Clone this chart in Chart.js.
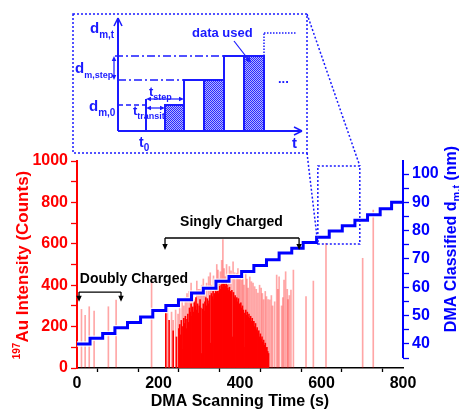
<!DOCTYPE html>
<html>
<head>
<meta charset="utf-8">
<script src="https://cdn.jsdelivr.net/npm/chart.js@4.4.1/dist/chart.umd.min.js"></script>
<style>
body { margin: 0; background: #fff; }
canvas { display: block; }
</style>
</head>
<body>
<canvas id="grafico" width="459" height="412"></canvas>
<script>
// DMA steps: start time of each step (s) and classified diameter (nm)
const stepTimes = [0, 32, 63, 93, 124, 156, 186, 218, 249, 281, 310, 341, 373, 404, 434, 465, 496, 527, 555, 588, 619, 651, 682, 713, 744, 772, 800];
const stepDiameters = [40, 42, 43.7, 45.7, 47.6, 49.5, 51.8, 53.6, 55.6, 58, 59.7, 62.1, 63.8, 65.6, 67.7, 69.7, 72.1, 73.8, 75.8, 77.7, 79.9, 81.7, 83.7, 85.6, 87.7, 90, 90];

// dense 197Au signal (solid red part)
const denseTimes = [218, 226, 236, 244,
    250, 252, 254, 256, 258, 260, 262, 264, 266, 268, 270, 272, 274, 276, 278, 280, 282, 284, 286, 288, 290, 292, 294, 296, 298,
    300, 302, 304, 306, 308, 310, 312, 314, 316, 318, 320, 322, 324, 326, 328, 330, 332, 334, 336, 338, 340, 342, 344, 346, 348,
    350, 352, 354, 356, 358, 360, 362, 364, 366, 368, 370, 372, 374, 376, 378, 380, 382, 384, 386, 388, 390, 392, 394, 396, 398,
    400, 402, 404, 406, 408, 410, 412, 414, 416, 418, 420, 422, 424, 426, 428, 430, 432, 434, 436, 438, 440, 442, 444, 446, 448,
    450, 452, 454, 456, 458, 460, 462, 464, 466, 468, 470];
const denseCounts = [265, 230, 180, 150,
    190, 210, 160, 230, 200, 90, 240, 215, 250, 190, 235, 260, 220, 290, 270, 310, 250, 295, 270, 320, 300, 340, 280, 310, 265,
    300, 330, 290, 70, 285, 310, 275, 320, 340, 300, 335, 310, 325, 350, 120, 360, 345, 370, 330, 360, 385, 365, 390, 375, 360,
    395, 380, 400, 410, 390, 415, 405, 395, 420, 400, 385, 375, 390, 370, 360, 375, 150, 365, 340, 350, 330, 340, 320, 335, 310,
    300, 315, 290, 300, 280, 100, 265, 280, 255, 270, 245, 260, 240, 250, 225, 240, 210, 225, 200, 215, 185, 195, 170, 180, 150,
    165, 140, 150, 125, 135, 110, 120, 95, 100, 80, 70];

// single spikes (thin, pale lines)
const spikeTimes = [11, 20, 30, 42, 77, 96, 183, 222, 232, 236, 242, 248, 252, 258, 262, 266, 270, 275, 280, 285, 290, 294, 298,
    302, 306, 310, 314, 318, 323, 327, 330, 335, 340, 343, 346, 349, 352, 355, 358, 361, 364, 367, 371, 374, 378, 383, 387, 392,
    395, 398, 401, 404, 407, 410, 414, 417, 420, 424, 428, 432, 436, 440, 444, 448, 452, 455, 458, 462, 465, 469, 473, 477, 480,
    485, 490, 493, 496, 502, 505, 508, 512, 516, 518, 521, 525, 531, 562, 580, 611, 701, 727];
const spikeCounts = [283, 255, 296, 275, 296, 328, 420, 300, 270, 230, 280, 260, 300, 330, 300, 340, 360, 370, 410, 360, 330, 420, 380,
    380, 400, 430, 370, 410, 441, 460, 400, 445, 425, 500, 473, 430, 465, 520, 620, 480, 441, 500, 425, 490, 470, 513, 460, 458,
    480, 430, 470, 425, 440, 400, 465, 430, 386, 440, 417, 410, 393, 380, 362, 400, 386, 360, 330, 370, 345, 330, 329, 350, 300,
    320, 449, 380, 441, 300, 340, 425, 465, 380, 330, 350, 377, 473, 345, 420, 602, 530, 763];

const countTicks = [0, 200, 400, 600, 800, 1000];
const timeTicks = [0, 200, 400, 600, 800];
const diameterTicks = [40, 50, 60, 70, 80, 90, 100];

const FUENTE = '"Liberation Sans", Arial, sans-serif';
const AZUL = '#0000ff';
const AZUL_INSET = '#1a1aff';

function puntos(xs, ys) {
    return xs.map((x, i) => ({ x: x, y: ys[i] }));
}

function flecha(ctx, x, y, ang, tam, color) {
    ctx.save();
    ctx.translate(x, y);
    ctx.rotate(ang);
    ctx.fillStyle = color;
    ctx.beginPath();
    ctx.moveTo(0, 0);
    ctx.lineTo(-tam, -tam * 0.45);
    ctx.lineTo(-tam, tam * 0.45);
    ctx.closePath();
    ctx.fill();
    ctx.restore();
}

function linea(ctx, x1, y1, x2, y2) {
    ctx.beginPath();
    ctx.moveTo(x1, y1);
    ctx.lineTo(x2, y2);
    ctx.stroke();
}

function textoSub(ctx, x, y, base, sub, tam, tamSub, color) {
    ctx.fillStyle = color;
    ctx.font = 'bold ' + tam + 'px ' + FUENTE;
    ctx.fillText(base, x, y);
    const w = ctx.measureText(base).width;
    ctx.font = 'bold ' + tamSub + 'px ' + FUENTE;
    ctx.fillText(sub, x + w, y + tam * 0.3);
}

// title rotated -90deg, made of pieces with own size and vertical shift
function tituloVertical(ctx, cx, cy, piezas, color) {
    ctx.save();
    ctx.translate(cx, cy);
    ctx.rotate(-Math.PI / 2);
    ctx.fillStyle = color;
    ctx.textBaseline = 'alphabetic';
    let total = 0;
    piezas.forEach(p => {
        ctx.font = 'bold ' + p.tam + 'px ' + FUENTE;
        p.w = ctx.measureText(p.t).width;
        total += p.w;
    });
    let x = -total / 2;
    piezas.forEach(p => {
        ctx.font = 'bold ' + p.tam + 'px ' + FUENTE;
        ctx.fillText(p.t, x, 6 + p.dy);
        x += p.w;
    });
    ctx.restore();
}

function patronTrama(ctx) {
    const c = document.createElement('canvas');
    c.width = 2; c.height = 2;
    const p = c.getContext('2d');
    p.fillStyle = '#b4b4ff';
    p.fillRect(0, 0, 2, 2);
    p.fillStyle = '#2a2aff';
    p.fillRect(0, 0, 1, 1);
    p.fillRect(1, 1, 1, 1);
    return ctx.createPattern(c, 'repeat');
}

// schematic of the DMA stepping above the plot
function dibujarInset(ctx) {
    ctx.save();
    ctx.strokeStyle = AZUL_INSET;
    ctx.lineWidth = 1.5;
    // dashed frame
    ctx.setLineDash([2, 2]);
    ctx.strokeRect(73, 14, 234, 139);
    ctx.setLineDash([]);

    // axes
    ctx.lineWidth = 2;
    linea(ctx, 118, 131, 118, 18);
    linea(ctx, 118, 131, 302, 131);
    ctx.lineWidth = 1.5;
    linea(ctx, 118, 18, 114, 26); linea(ctx, 118, 18, 122, 26);
    linea(ctx, 302, 131, 294, 127); linea(ctx, 302, 131, 294, 135);

    // dash-dot levels
    ctx.setLineDash([8, 3, 2, 3]);
    linea(ctx, 115, 56, 224, 56);
    linea(ctx, 118, 80, 185, 80);
    ctx.setLineDash([5, 3]);
    linea(ctx, 118, 105, 146, 105);
    ctx.setLineDash([]);

    // boxes
    const trama = patronTrama(ctx);
    ctx.lineWidth = 2;
    linea(ctx, 146, 99, 146, 131);
    const cajas = [[165, 105, 19, true], [184, 80, 20, false], [204, 80, 20, true], [224, 56, 20, false], [244, 56, 20, true]];
    cajas.forEach(c => {
        if (c[3]) {
            ctx.fillStyle = trama;
            ctx.fillRect(c[0], c[1], c[2], 131 - c[1]);
        }
        ctx.strokeRect(c[0], c[1], c[2], 131 - c[1]);
    });
    ctx.lineWidth = 1.5;
    ctx.setLineDash([1.5, 1.5]);
    linea(ctx, 264, 56, 264, 33);
    linea(ctx, 264, 33, 297, 33);
    ctx.setLineDash([]);

    // d_m,step double arrow
    ctx.lineWidth = 1.2;
    linea(ctx, 114, 59, 114, 77);
    flecha(ctx, 114, 56, -Math.PI / 2, 5, AZUL_INSET);
    flecha(ctx, 114, 80, Math.PI / 2, 5, AZUL_INSET);
    // t_step and t_transit arrows
    linea(ctx, 149, 99, 181, 99);
    flecha(ctx, 146, 99, Math.PI, 5, AZUL_INSET);
    flecha(ctx, 184, 99, 0, 5, AZUL_INSET);
    linea(ctx, 149, 108, 162, 108);
    flecha(ctx, 146, 108, Math.PI, 5, AZUL_INSET);
    flecha(ctx, 165, 108, 0, 5, AZUL_INSET);
    // data used arrow
    linea(ctx, 234, 41, 248, 59);
    flecha(ctx, 251, 63, Math.atan2(22, 17), 6, AZUL_INSET);

    // labels
    ctx.textAlign = 'left';
    ctx.textBaseline = 'alphabetic';
    textoSub(ctx, 90, 33, 'd', 'm,t', 15, 10, AZUL_INSET);
    textoSub(ctx, 75, 73, 'd', 'm,step', 15, 9, AZUL_INSET);
    textoSub(ctx, 89, 111, 'd', 'm,0', 15, 10, AZUL_INSET);
    textoSub(ctx, 139, 147, 't', '0', 14, 10, AZUL_INSET);
    textoSub(ctx, 149, 96, 't', 'step', 13, 9, AZUL_INSET);
    textoSub(ctx, 133, 115, 't', 'transit', 13, 9, AZUL_INSET);
    ctx.font = 'bold 15px ' + FUENTE;
    ctx.fillText('t', 292, 148);
    ctx.font = 'bold 13px ' + FUENTE;
    ctx.fillText('data used', 192, 37);
    ctx.fillText('...', 278, 83);
    ctx.restore();
}

const extras = {
    id: 'extras',
    afterDatasetsDraw(chart) {
        const ctx = chart.ctx;
        const x = chart.scales.x;
        const y = chart.scales.y;
        const y1 = chart.scales.y1;
        const area = chart.chartArea;

        // right axis line only spans the diameter range
        ctx.save();
        ctx.strokeStyle = AZUL;
        ctx.lineWidth = 2;
        linea(ctx, area.right, y1.getPixelForValue(35), area.right, area.top - 1);

        // zoomed region and connector lines
        ctx.strokeStyle = AZUL_INSET;
        ctx.lineWidth = 1.5;
        ctx.setLineDash([2, 2]);
        const rx1 = x.getPixelForValue(591), rx2 = x.getPixelForValue(694);
        const ry1 = y.getPixelForValue(976), ry2 = y.getPixelForValue(599);
        ctx.strokeRect(rx1, ry1, rx2 - rx1, ry2 - ry1);
        linea(ctx, 307, 14, rx2, ry1);
        linea(ctx, 307, 153, rx1, ry2);
        ctx.setLineDash([]);

        // charge annotations
        ctx.strokeStyle = '#000';
        ctx.lineWidth = 1.3;
        ctx.fillStyle = '#000';
        ctx.font = 'bold 14px ' + FUENTE;
        ctx.textBaseline = 'middle';
        ctx.textAlign = 'left';
        ctx.fillText('Doubly Charged', x.getPixelForValue(7), y.getPixelForValue(430));
        ctx.fillText('Singly Charged', x.getPixelForValue(253), y.getPixelForValue(705));
        const corchetes = [[5, 108, 367, 320], [216, 545, 628, 570]];
        corchetes.forEach(c => {
            const xa = x.getPixelForValue(c[0]), xb = x.getPixelForValue(c[1]);
            const yl = y.getPixelForValue(c[2]), yt = y.getPixelForValue(c[3]);
            linea(ctx, xa, yl, xb, yl);
            linea(ctx, xa, yl, xa, yt - 4);
            linea(ctx, xb, yl, xb, yt - 4);
            flecha(ctx, xa, yt, Math.PI / 2, 6, '#000');
            flecha(ctx, xb, yt, Math.PI / 2, 6, '#000');
        });
        ctx.restore();
    },
    afterDraw(chart) {
        const ctx = chart.ctx;
        dibujarInset(ctx);
        // axis titles
        tituloVertical(ctx, 22, 265, [
            { t: '197', tam: 10, dy: -8 },
            { t: 'Au Intensity (Counts)', tam: 17, dy: 0 }
        ], '#ff0000');
        tituloVertical(ctx, 450, 239, [
            { t: 'DMA Classified d', tam: 16, dy: 0 },
            { t: 'm,t', tam: 11, dy: 4 },
            { t: ' (nm)', tam: 16, dy: 0 }
        ], AZUL);
        ctx.save();
        ctx.fillStyle = '#000';
        ctx.font = 'bold 16px ' + FUENTE;
        ctx.textAlign = 'center';
        ctx.textBaseline = 'middle';
        ctx.fillText('DMA Scanning Time (s)', 240, 402);
        ctx.restore();
    }
};

const fuenteTicks = { family: FUENTE, size: 16, weight: 'bold' };

const config = {
    data: {
        datasets: [
            {
                type: 'line',
                data: puntos(stepTimes, stepDiameters),
                yAxisID: 'y1',
                stepped: 'before',
                borderColor: AZUL,
                borderWidth: 3,
                pointRadius: 0,
                order: 0
            },
            {
                type: 'line',
                data: puntos(stepTimes, stepDiameters),
                yAxisID: 'y1',
                stepped: 'before',
                borderColor: 'rgba(255,255,255,0.8)',
                borderWidth: 5.5,
                pointRadius: 0,
                order: 1
            },
            {
                type: 'bar',
                data: puntos(spikeTimes, spikeCounts),
                yAxisID: 'y',
                backgroundColor: 'rgba(255,0,0,0.35)',
                barThickness: 1,
                grouped: false,
                order: 2
            },
            {
                type: 'bar',
                data: puntos(denseTimes, denseCounts),
                yAxisID: 'y',
                backgroundColor: '#ff0000',
                barThickness: 1,
                grouped: false,
                order: 3
            }
        ]
    },
    options: {
        responsive: false,
        animation: false,
        events: [],
        layout: { padding: { top: 161, left: 0, right: 0, bottom: 0 } },
        plugins: {
            legend: { display: false },
            tooltip: { enabled: false }
        },
        scales: {
            x: {
                type: 'linear',
                position: 'bottom',
                min: 0,
                max: 800,
                offset: false,
                border: { color: '#000', width: 1.5 },
                grid: { drawOnChartArea: false, color: '#000', tickLength: 4, tickWidth: 1.3 },
                afterBuildTicks: s => { s.ticks = [0, 100, 200, 300, 400, 500, 600, 700, 800].map(v => ({ value: v })); },
                ticks: {
                    autoSkip: false,
                    maxRotation: 0,
                    padding: 2,
                    color: '#000',
                    font: fuenteTicks,
                    callback: v => timeTicks.includes(v) ? v : ''
                },
                afterFit: s => { s.height = 44; }
            },
            y: {
                position: 'left',
                min: 0,
                max: 1000,
                border: { color: '#ff0000', width: 2 },
                grid: { drawOnChartArea: false, color: '#ff0000', tickLength: 6, tickWidth: 1.3 },
                afterBuildTicks: s => { s.ticks = [0, 100, 200, 300, 400, 500, 600, 700, 800, 900, 1000].map(v => ({ value: v })); },
                ticks: {
                    autoSkip: false,
                    padding: 3,
                    color: '#ff0000',
                    font: fuenteTicks,
                    callback: v => countTicks.includes(v) ? v : ''
                },
                afterFit: s => { s.width = 77; }
            },
            y1: {
                position: 'right',
                min: 31.5,
                max: 104.6,
                border: { display: false },
                grid: { drawOnChartArea: false, color: AZUL, tickLength: 6, tickWidth: 1.3 },
                afterBuildTicks: s => { s.ticks = [35, 40, 45, 50, 55, 60, 65, 70, 75, 80, 85, 90, 95, 100].map(v => ({ value: v })); },
                ticks: {
                    autoSkip: false,
                    padding: 3,
                    color: AZUL,
                    font: fuenteTicks,
                    callback: v => diameterTicks.includes(v) ? v : ''
                },
                afterFit: s => { s.width = 56; }
            }
        }
    },
    plugins: [extras]
};

const grafico = new Chart(document.getElementById('grafico'), config);
</script>
</body>
</html>
